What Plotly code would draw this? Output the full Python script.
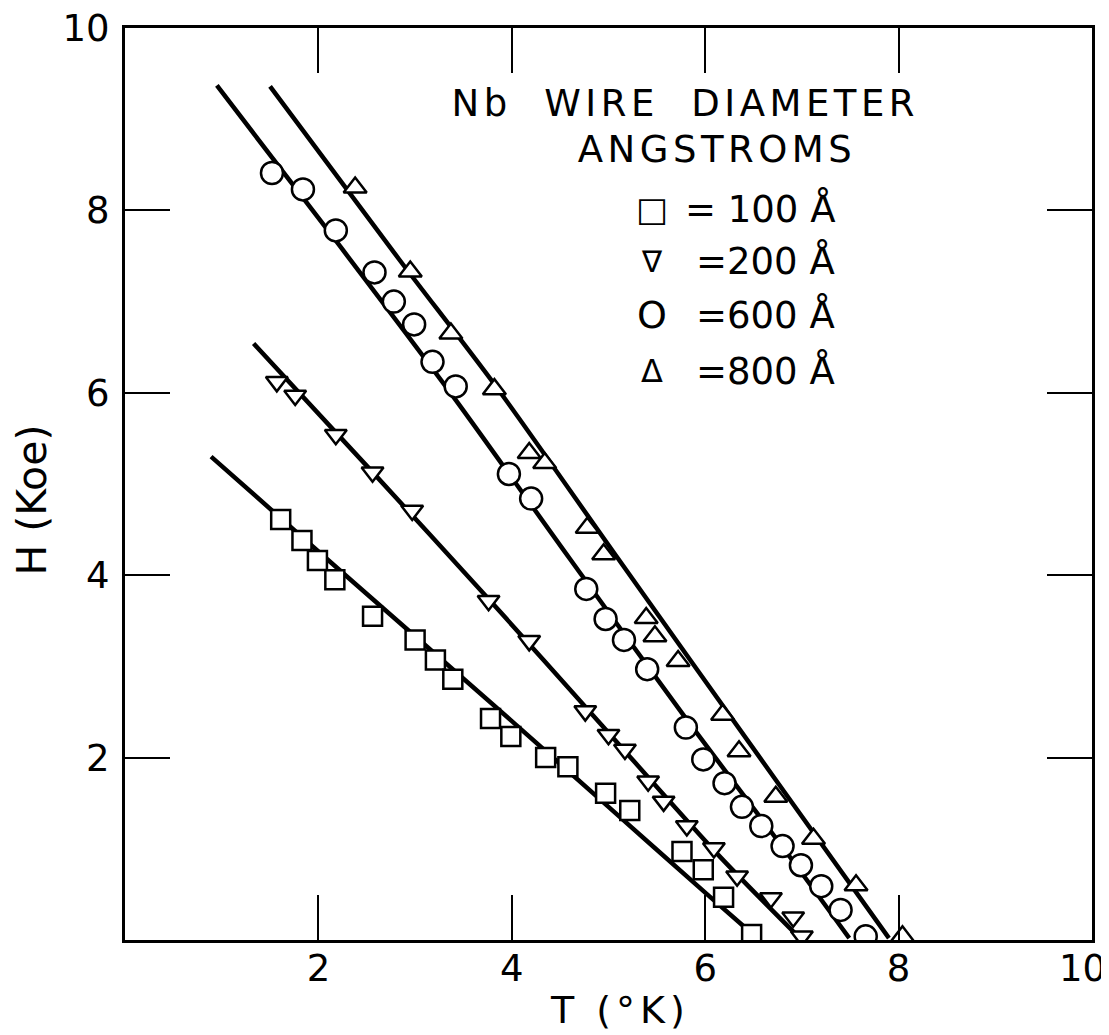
import plotly.graph_objects as go

# ---- data: T (K) vs H (kOe) ----
# 100 Å (squares)
t100 = [1.61, 1.83, 1.99, 2.17, 2.56, 3.00, 3.21, 3.39, 3.78, 3.99, 4.35, 4.58,
        4.97, 5.22, 5.76, 5.98, 6.19, 6.48]
h100 = [4.61, 4.38, 4.16, 3.95, 3.55, 3.29, 3.07, 2.86, 2.43, 2.23, 2.00, 1.90,
        1.61, 1.42, 0.97, 0.77, 0.47, 0.06]
# 200 Å (down triangles)
t200 = [1.57, 1.76, 2.18, 2.56, 2.97, 3.76, 4.18, 4.76, 5.00, 5.17, 5.41, 5.57,
        5.81, 6.09, 6.33, 6.68, 6.91, 7.00]
h200 = [6.12, 5.97, 5.54, 5.13, 4.71, 3.72, 3.28, 2.51, 2.25, 2.09, 1.74, 1.52,
        1.25, 1.01, 0.70, 0.46, 0.25, 0.04]
# 600 Å (circles)
t600 = [1.52, 1.84, 2.18, 2.58, 2.78, 2.99, 3.18, 3.42, 3.97, 4.20, 4.77, 4.97,
        5.16, 5.40, 5.80, 5.98, 6.20, 6.38, 6.58, 6.80, 6.99, 7.20, 7.40, 7.66]
h600 = [8.41, 8.23, 7.78, 7.32, 7.00, 6.75, 6.34, 6.07, 5.11, 4.84, 3.85, 3.52,
        3.29, 2.97, 2.33, 1.98, 1.72, 1.46, 1.25, 1.03, 0.82, 0.59, 0.33, 0.04]
# 800 Å (up triangles)
t800 = [2.38, 2.95, 3.37, 3.82, 4.18, 4.34, 4.78, 4.95, 5.39, 5.48, 5.72, 6.18,
        6.35, 6.73, 7.12, 7.56, 8.04]
h800 = [8.25, 7.33, 6.65, 6.04, 5.34, 5.23, 4.52, 4.23, 3.53, 3.33, 3.06, 2.47,
        2.07, 1.57, 1.11, 0.60, 0.04]

# drawn curves
fit100_t = [0.89, 2.0, 3.0, 4.0, 5.0, 6.0, 6.43]
fit100_h = [5.30, 4.26, 3.33, 2.40, 1.46, 0.52, 0.12]
fit200_t = [1.33, 2.56, 3.76, 4.91, 6.12, 6.97]
fit200_h = [6.54, 5.13, 3.74, 2.38, 0.95, 0.03]
fit600_t = [0.95, 2.2, 3.4, 4.6, 5.8, 6.8, 7.49]
fit600_h = [9.37, 7.64, 5.95, 4.18, 2.43, 1.02, 0.02]
fit800_t = [1.50, 2.83, 3.85, 5.08, 6.78, 7.90]
fit800_h = [9.36, 7.47, 6.05, 4.21, 1.68, 0.02]

x_tick_vals = [2, 4, 6, 8]
x_tick_text = ["2", "4", "6", "8"]
x_end_label = "10"
y_tick_vals = [2, 4, 6, 8, 10]
y_tick_text = ["2", "4", "6", "8", "10"]

legend_rows = ["= 100 Å", "=200 Å", "=600 Å", "=800 Å"]
legend_syms = ["□", "∇", "O", "Δ"]

FONT = "DejaVu Sans, sans-serif"

fig = go.Figure()

for t, h in [(fit100_t, fit100_h), (fit200_t, fit200_h),
             (fit600_t, fit600_h), (fit800_t, fit800_h)]:
    fig.add_trace(go.Scatter(x=t, y=h, mode="lines",
                             line=dict(color="black", width=4.5, shape="spline", smoothing=0.8),
                             hoverinfo="skip"))

def mk(t, h, symbol, size):
    return go.Scatter(x=t, y=h, mode="markers",
                      marker=dict(symbol=symbol, size=size, color="white",
                                  line=dict(color="black", width=2.5)),
                      hoverinfo="skip")

fig.add_trace(mk(t100, h100, "square", 19))
fig.add_trace(mk(t200, h200, "triangle-down", 19))
fig.add_trace(mk(t600, h600, "circle", 22))
fig.add_trace(mk(t800, h800, "triangle-up", 20))

axis_common = dict(range=[0, 10],
                   ticks="inside", ticklen=45, tickwidth=2, tickcolor="black",
                   showline=True, linewidth=3, linecolor="black", mirror="ticks",
                   showgrid=False, zeroline=False, automargin=False,
                   ticklabeloverflow="allow",
                   tickfont=dict(size=37, family=FONT, color="black"))

fig.update_xaxes(**axis_common, tickvals=x_tick_vals, ticktext=x_tick_text,
                 ticklabelstandoff=-6)
fig.update_yaxes(**axis_common, tickvals=y_tick_vals, ticktext=y_tick_text,
                 ticklabelstandoff=5)

ann = []
ann.append(dict(x=5.80, y=9.17, xref="x", yref="y",
                text="Nb\u00a0\u00a0WIRE\u00a0\u00a0DIAMETER",
                showarrow=False, font=dict(size=37, family=FONT, color="black")))
ann.append(dict(x=6.12, y=8.67, xref="x", yref="y", text="ANGSTROMS",
                showarrow=False, font=dict(size=37, family=FONT, color="black")))
row_y = [8.02, 7.44, 6.85, 6.24]
sym_sizes = [34, 30, 38, 32]
for s, txt, yy, fs in zip(legend_syms, legend_rows, row_y, sym_sizes):
    ann.append(dict(x=5.45, y=yy, xref="x", yref="y", text=s, showarrow=False,
                    font=dict(size=fs, family=FONT, color="black")))
    ann.append(dict(x=7.36, y=yy, xref="x", yref="y", text=txt, showarrow=False,
                    xanchor="right", font=dict(size=37, family=FONT, color="black")))

# end label of the T axis, kept inside the window
ann.append(dict(x=9.90, y=-0.031, xref="x", yref="paper", text=x_end_label,
                showarrow=False, xanchor="center", yanchor="middle",
                font=dict(size=37, family=FONT, color="black")))

ann.append(dict(x=-0.096, y=0.482, xref="paper", yref="paper", text="H (Koe)",
                textangle=-90, showarrow=False, xanchor="center", yanchor="middle",
                font=dict(size=41, family=FONT, color="black")))
ann.append(dict(x=0.512, y=-0.077, xref="paper", yref="paper", text="T (°K)",
                showarrow=False, xanchor="center", yanchor="middle",
                font=dict(size=38, family=FONT, color="black")))

# the page adds an 8 px body margin, so the figure is sized to fit the window
fig.update_layout(width=1101, height=1027,
                  margin=dict(l=117, r=17, t=20, b=95, autoexpand=False),
                  plot_bgcolor="white", paper_bgcolor="white",
                  showlegend=False, annotations=ann,
                  font=dict(family=FONT, color="black"))

# widen the lettering of the spaced-out captions, as in the original
post_js = """
var gd = document.getElementById('{plot_id}');
gd.querySelectorAll('text.annotation-text').forEach(function(t){
  var k = t.textContent;
  if (k.indexOf('ANGSTROMS') >= 0 || k.indexOf('WIRE') >= 0) { t.style.letterSpacing = '4.5px'; }
  if (k.indexOf('\\u00b0K') >= 0 || k.indexOf('°K') >= 0) { t.style.letterSpacing = '5px'; }
});
"""

fig.write_html("out.html", post_script=post_js)
